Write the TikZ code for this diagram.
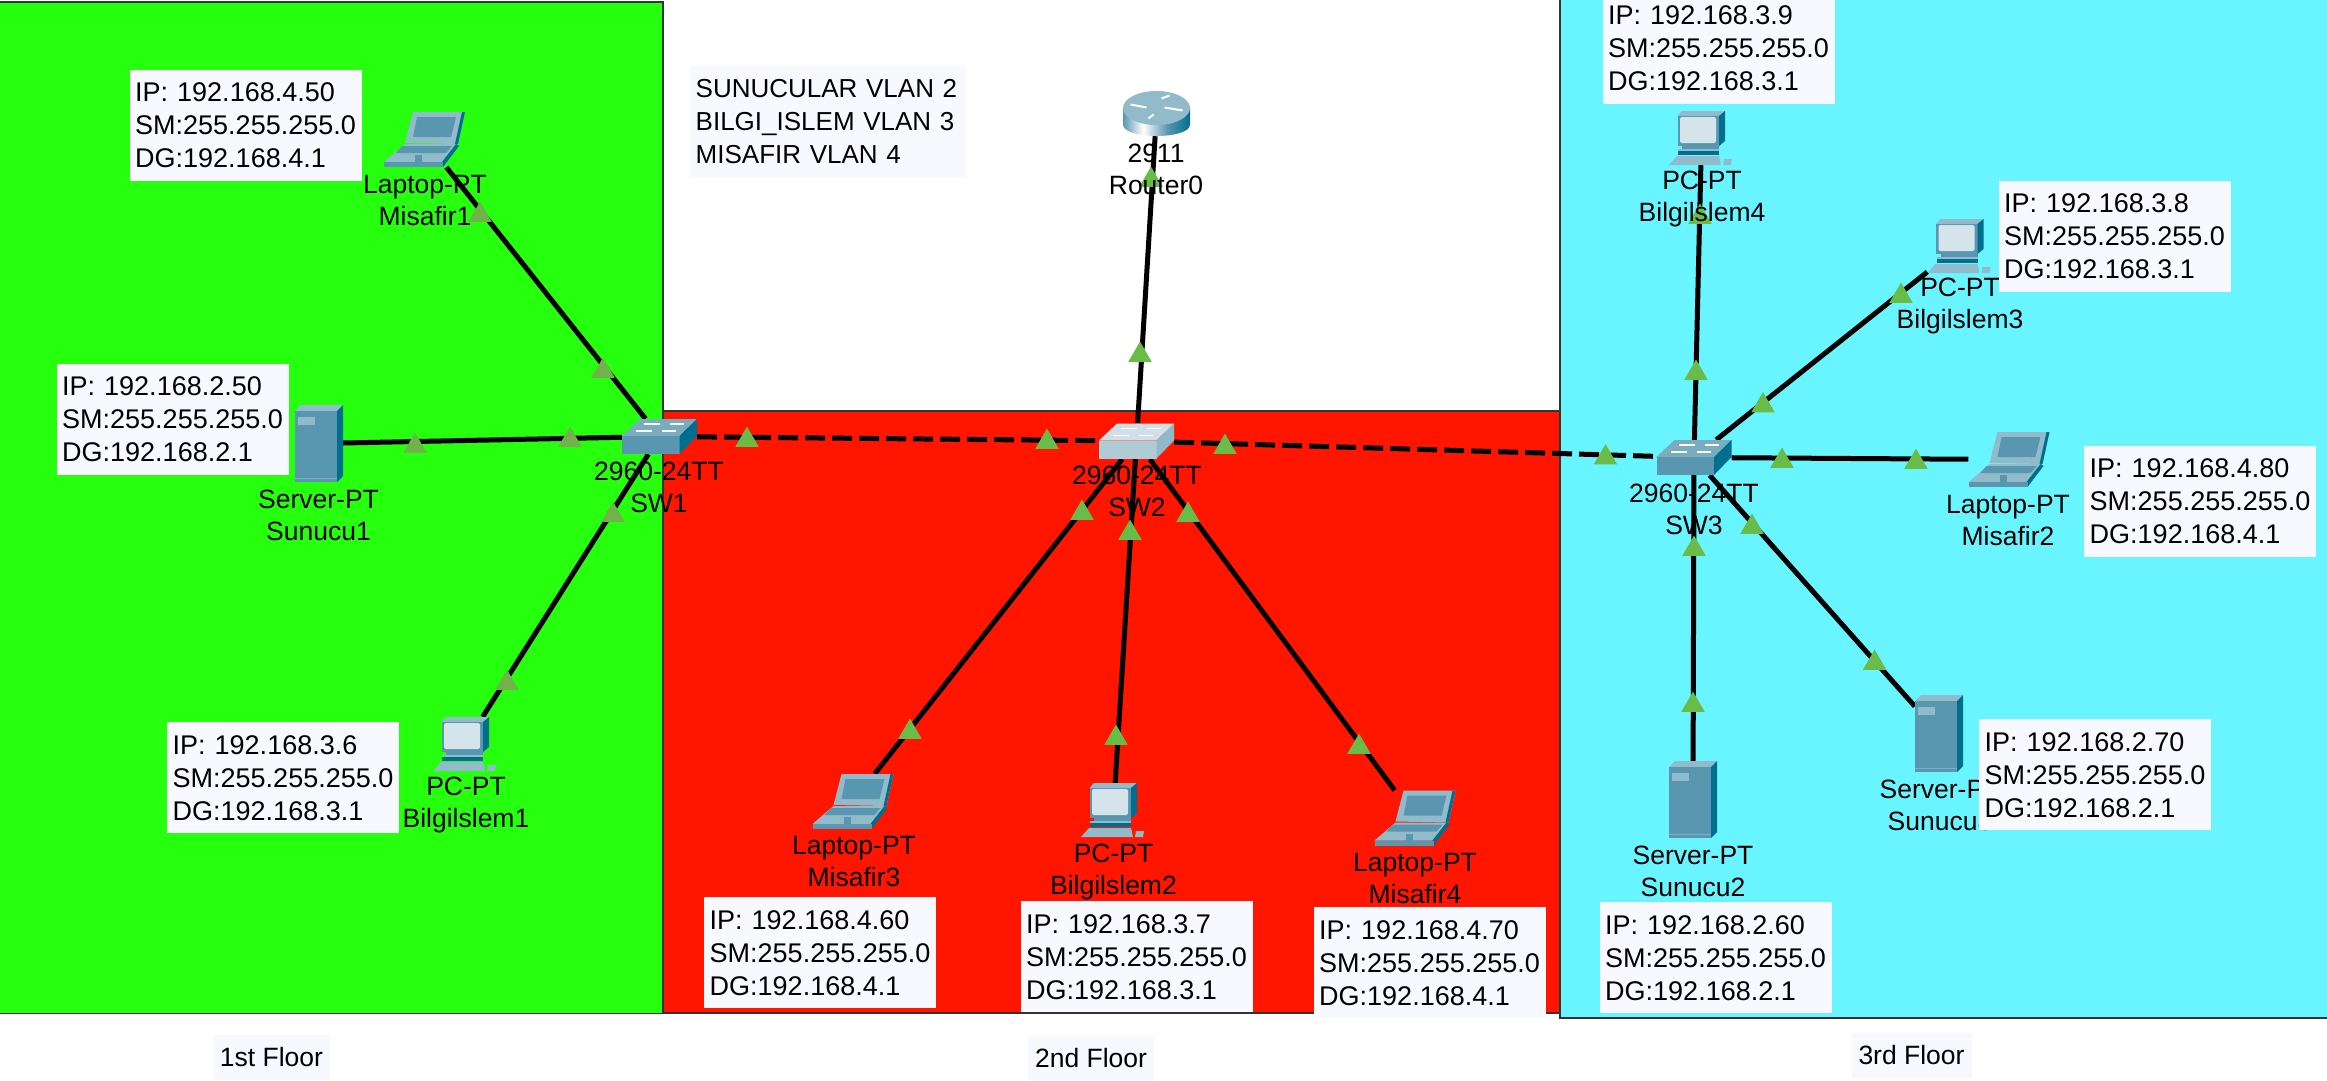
\documentclass[tikz,border=0pt]{standalone}
\usepackage{fontspec}
\setmainfont{Liberation Sans}
\usetikzlibrary{shapes.geometric}

\definecolor{floorone}{RGB}{38,255,14}
\definecolor{floortwo}{RGB}{255,21,0}
\definecolor{floorthree}{RGB}{104,245,255}
\definecolor{notefill}{RGB}{248,249,255}
\definecolor{linkgreen}{RGB}{105,188,72}
\definecolor{linkolive}{RGB}{114,177,76}
\definecolor{iconfront}{RGB}{88,151,175}
\definecolor{icontop}{RGB}{145,186,202}
\definecolor{iconside}{RGB}{0,110,142}
\definecolor{iconscreen}{RGB}{213,227,234}
\definecolor{swfront}{RGB}{88,151,175}
\definecolor{swtop}{RGB}{122,172,192}
\definecolor{swside}{RGB}{0,110,142}
\definecolor{swlitfront}{RGB}{174,203,214}
\definecolor{swlittop}{RGB}{208,224,230}
\definecolor{swlitside}{RGB}{143,185,201}

\pgfdeclarehorizontalshading{routerbody}{100bp}{color(0bp)=(iconfront); color(25bp)=(iconfront); color(40bp)=(white); color(58bp)=(iconfront); color(75bp)=(iconside); color(100bp)=(iconside)}

\tikzset{
  laptopicon/.pic={
    \begin{scope}[shift={(-40.5,-27.5)}]
    \fill[icontop] (21,31) -- (29,0) -- (81,0) -- (74,32) -- cycle;
    \fill[iconside] (78,0) -- (81,0) -- (74,32) -- (71,32) -- cycle;
    \fill[iconfront] (29,25) -- (33,5) -- (72,5) -- (67,25) -- cycle;
    \fill[icontop] (0,50) -- (21,32) -- (72,32) -- (58,50) -- cycle;
    \fill[iconfront] (18,34) -- (68,34) -- (62,41) -- (12,41) -- cycle;
    \fill[iconfront] (31,43) rectangle (38,50);
    \fill[iconside] (72,32) -- (75,34) -- (59,55) -- (58,50) -- cycle;
    \fill[iconfront] (0,50) rectangle (59,55);
    \end{scope}
  },
  pcicon/.pic={
    \begin{scope}[shift={(-32.5,-27)}]
    \fill[icontop] (8.5,5) -- (13,0) -- (56,0) -- (50,5) -- cycle;
    \fill[iconfront] (8.5,5) rectangle (50,35);
    \fill[iconside] (50,5) -- (56,0) -- (56,30) -- (50,35) -- cycle;
    \fill[iconscreen,rounded corners=2pt] (11,6) rectangle (47,32);
    \fill[iconfront] (13,35) rectangle (50,38);
    \fill[iconside] (9,38) rectangle (50,44);
    \fill[icontop] (9,38) rectangle (50,40);
    \fill[icontop] (8,45) -- (50,45) -- (52,54) -- (0,54) -- cycle;
    \fill[icontop] (55,48) -- (63,48) -- (62,54) -- (54,54) -- cycle;
    \end{scope}
  },
  servericon/.pic={
    \begin{scope}[shift={(-24,-38.5)}]
    \fill[icontop] (0,6) -- (6,0) -- (48,0) -- (42,6) -- cycle;
    \fill[iconfront] (0,6) rectangle (42,77);
    \fill[iconside] (42,6) -- (48,0) -- (48,71) -- (42,77) -- cycle;
    \fill[icontop] (3,12) rectangle (20,20);
    \fill[icontop!70!iconfront] (0,73) rectangle (42,74);
    \end{scope}
  },
  routericon/.pic={
    \shade[shading=routerbody]
      (-33.5,-5.5) -- (-33.5,11) .. controls (-33.5,26.3) and (33.5,26.3) .. (33.5,11) -- (33.5,-5.5) -- cycle;
    \fill[icontop] (0,-5.5) ellipse [x radius=33.5pt,y radius=17pt];
    \draw[white,line width=2pt] (-26,-9) -- (-10,-6) (26,-3) -- (8,-6) (5,-15) -- (13,-18) (-3,1) -- (-8,5);
  },
  switchicon/.pic={
    \begin{scope}[shift={(-37.5,-17.5)}]
    \fill[#1top] (0,17) -- (18,0) -- (75,0) -- (57.5,17) -- cycle;
    \fill[#1front] (0,17) rectangle (57.5,35);
    \fill[#1side] (57.5,17) -- (75,0) -- (75,17) -- (57.5,35) -- cycle;
    \draw[white,line width=1.2pt] (22,5) -- (38,5) (48,5) -- (62,5) (14,12) -- (30,12) (40,12) -- (54,12);
    \end{scope}
  }
}

\begin{document}
\begin{tikzpicture}[x=1pt,y=-1pt]
\tikzstyle{floorbox} = [draw=black!80,line width=1.5pt]
\tikzstyle{ipbox} = [fill=notefill,anchor=north west,minimum width=232pt,minimum height=111pt,text width=221pt,inner xsep=5.5pt,inner ysep=0pt,align=left,font=\fontsize{27}{33}\selectfont]
\tikzstyle{floorlabel} = [fill=notefill,minimum height=45pt,inner xsep=7pt,inner ysep=0pt,font=\fontsize{26.5}{31}\selectfont]
\tikzstyle{devlabel} = [inner sep=0pt,align=center,font=\fontsize{26.5}{32}\selectfont]
\tikzstyle{hostnode} = [inner sep=0pt]
\tikzstyle{link} = [draw=black,line width=5pt]
\tikzstyle{trunk} = [link,dash pattern=on 20pt off 7pt]
\tikzstyle{portlight} = [regular polygon,regular polygon sides=3,minimum size=27pt,inner sep=0pt,yshift=-3pt]

\useasboundingbox (0,0) rectangle (2327,1081);

% floors
\path[fill=white] (0,0) rectangle (2327,1081);
\path[fill=floortwo,floorbox] (663,411) rectangle (1560,1013);
\path[fill=floorone,floorbox] (-2,2) rectangle (663,1013.5);
\path[fill=floorthree,floorbox] (1560,-2) rectangle (2329,1018);

% devices
\node[hostnode,minimum width=67pt,minimum height=45pt] (router0) at (1156.5,113.5) {};
\node[hostnode,minimum width=75pt,minimum height=35pt] (sw1) at (659.5,436.5) {};
\node[hostnode,minimum width=75pt,minimum height=36pt] (sw2) at (1136.5,441) {};
\node[hostnode,minimum width=75pt,minimum height=35pt] (sw3) at (1694,457.5) {};
\node[hostnode,minimum width=81pt,minimum height=55pt] (misafir1) at (424.5,139.5) {};
\node[hostnode,minimum width=81pt,minimum height=55pt] (misafir2) at (2009,459.5) {};
\node[hostnode,minimum width=81pt,minimum height=55pt] (misafir3) at (853,801.5) {};
\node[hostnode,minimum width=81pt,minimum height=55pt] (misafir4) at (1415,818) {};
\node[hostnode,minimum width=65pt,minimum height=54pt] (bilgi1) at (465.5,744) {};
\node[hostnode,minimum width=65pt,minimum height=54pt] (bilgi2) at (1113.5,810) {};
\node[hostnode,minimum width=65pt,minimum height=54pt] (bilgi3) at (1960,246) {};
\node[hostnode,minimum width=65pt,minimum height=54pt] (bilgi4) at (1701.5,138) {};
\node[hostnode,minimum width=48pt,minimum height=77pt] (sunucu1) at (319,443.5) {};
\node[hostnode,minimum width=48pt,minimum height=77pt] (sunucu2) at (1693,799.5) {};
\node[hostnode,minimum width=48pt,minimum height=77pt] (sunucu3) at (1939,733.5) {};

% links
\draw[trunk] (sw1) -- (sw2);
\draw[trunk] (sw2) -- (sw3);
\draw[link] (router0) -- (sw2);
\draw[link] (misafir1) -- (sw1);
\draw[link] (sunucu1) -- (sw1);
\draw[link] (bilgi1) -- (sw1);
\draw[link] (misafir3) -- (sw2);
\draw[link] (bilgi2) -- (sw2);
\draw[link] (misafir4) -- (sw2);
\draw[link] (bilgi4) -- (sw3);
\draw[link] (bilgi3) -- (sw3);
\draw[link] (misafir2) -- (sw3);
\draw[link] (sunucu2) -- (sw3);
\draw[link] (sunucu3) -- (sw3);

% port lights
\foreach \x/\y [count=\i] in {480/212,603/368,415/443,570/437,507/680,613/512}
  \node[portlight,fill=linkolive] (lighta\i) at (\x,\y) {};
\foreach \x/\y [count=\i] in {747/437,1047/439,1225/444,1605.5/454.6,1151/177,1140/352,1082/510,1130/530,1188/512,910/729,1116/735,1359/744,1700/214,1696/370,1901/293,1763/402.5,1782/458,1916/459,1752/524,1694/546,1693/702,1874.6/660}
  \node[portlight,fill=linkgreen] (lightb\i) at (\x,\y) {};

% icons
\foreach \n in {misafir1,misafir2,misafir3,misafir4}
  \pic at (\n) {laptopicon};
\foreach \n in {bilgi1,bilgi2,bilgi3,bilgi4}
  \pic at (\n) {pcicon};
\foreach \n in {sunucu1,sunucu2,sunucu3}
  \pic at (\n) {servericon};
\pic at (router0) {routericon};
\pic at (sw1) {switchicon=sw};
\pic at (sw2) {switchicon=swlit};
\pic at (sw3) {switchicon=sw};

% device names
\node[devlabel] (router0lbl) at (1156,169) {2911\\Router0};
\node[devlabel] (sw1lbl) at (659,487.5) {2960-24TT\\SW1};
\node[devlabel] (sw2lbl) at (1137,491.5) {2960-24TT\\SW2};
\node[devlabel] (sw3lbl) at (1694,509) {2960-24TT\\SW3};
\node[devlabel] (misafir1lbl) at (425,201) {Laptop-PT\\Misafir1};
\node[devlabel] (misafir2lbl) at (2008,521) {Laptop-PT\\Misafir2};
\node[devlabel] (misafir3lbl) at (854,862) {Laptop-PT\\Misafir3};
\node[devlabel] (misafir4lbl) at (1415,878.5) {Laptop-PT\\Misafir4};
\node[devlabel] (bilgi1lbl) at (466,805) {PC-PT\\Bilgilslem1};
\node[devlabel] (bilgi2lbl) at (1113.5,871.5) {PC-PT\\Bilgilslem2};
\node[devlabel] (bilgi3lbl) at (1960,305.5) {PC-PT\\Bilgilslem3};
\node[devlabel] (bilgi4lbl) at (1702,199) {PC-PT\\Bilgilslem4};
\node[devlabel] (sunucu1lbl) at (318.5,515.5) {Server-PT\\Sunucu1};
\node[devlabel] (sunucu2lbl) at (1693,871) {Server-PT\\Sunucu2};
\node[devlabel] (sunucu3lbl) at (1940,805) {Server-PT\\Sunucu3};

% notes
\node[ipbox,minimum width=276pt,text width=265pt,font=\fontsize{26}{33}\selectfont] (vlans) at (690,66) {SUNUCULAR VLAN 2\\BILGI\_ISLEM VLAN 3\\MISAFIR VLAN 4};
\node[ipbox] (misafir1ip) at (129.5,70) {IP: 192.168.4.50\\SM:255.255.255.0\\DG:192.168.4.1};
\node[ipbox] (sunucu1ip) at (56.5,364) {IP: 192.168.2.50\\SM:255.255.255.0\\DG:192.168.2.1};
\node[ipbox] (bilgi1ip) at (167,722) {IP: 192.168.3.6\\SM:255.255.255.0\\DG:192.168.3.1};
\node[ipbox] (misafir3ip) at (704,897) {IP: 192.168.4.60\\SM:255.255.255.0\\DG:192.168.4.1};
\node[ipbox] (bilgi2ip) at (1020.5,901) {IP: 192.168.3.7\\SM:255.255.255.0\\DG:192.168.3.1};
\node[ipbox] (misafir4ip) at (1313.5,907) {IP: 192.168.4.70\\SM:255.255.255.0\\DG:192.168.4.1};
\node[ipbox] (bilgi4ip) at (1602.5,-7) {IP: 192.168.3.9\\SM:255.255.255.0\\DG:192.168.3.1};
\node[ipbox] (bilgi3ip) at (1998.5,181) {IP: 192.168.3.8\\SM:255.255.255.0\\DG:192.168.3.1};
\node[ipbox] (misafir2ip) at (2084,446) {IP: 192.168.4.80\\SM:255.255.255.0\\DG:192.168.4.1};
\node[ipbox] (sunucu3ip) at (1979,719) {IP: 192.168.2.70\\SM:255.255.255.0\\DG:192.168.2.1};
\node[ipbox] (sunucu2ip) at (1599.5,902) {IP: 192.168.2.60\\SM:255.255.255.0\\DG:192.168.2.1};

% floor names
\node[floorlabel] (floor1) at (271.5,1057) {1st Floor};
\node[floorlabel] (floor2) at (1091,1058.5) {2nd Floor};
\node[floorlabel] (floor3) at (1911.5,1055.5) {3rd Floor};
\end{tikzpicture}
\end{document}
